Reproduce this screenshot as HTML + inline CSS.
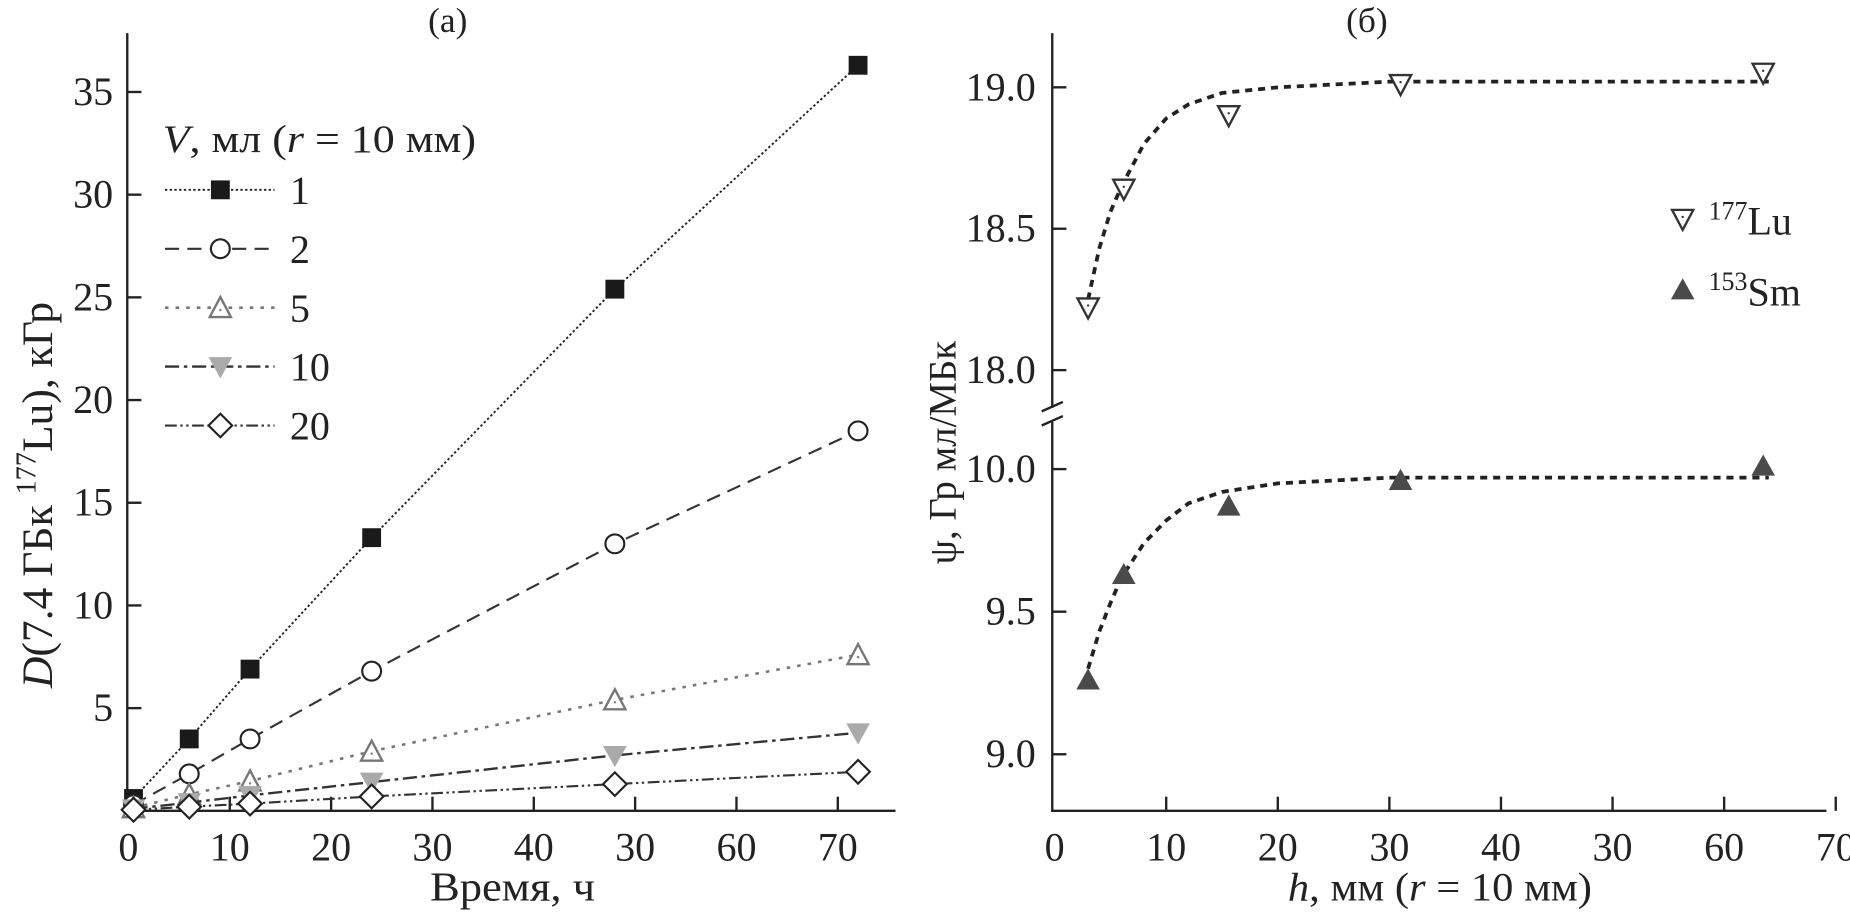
<!DOCTYPE html>
<html><head><meta charset="utf-8"><style>
html,body{margin:0;padding:0;background:#fff;}
svg{display:block;font-family:"Liberation Serif","DejaVu Serif",serif;}
</style></head><body>
<svg id="chart" width="1850" height="917" viewBox="0 0 1570 778">
<g id="pa"></g>
<g id="pb"></g>
</svg>
<script>
// ---- Panel (a) data ----
const timesA = [0.5, 6, 12, 24, 48, 72];
const s1 = [0.6, 3.5, 6.9, 13.3, 25.4, 36.3];
const s2 = [0.3, 1.8, 3.5, 6.8, 13.0, 18.5];
const s5 = [0.15, 0.8, 1.45, 2.9, 5.4, 7.6];
const s10 = [0.1, 0.4, 0.75, 1.4, 2.7, 3.8];
const s20 = [0.05, 0.2, 0.35, 0.7, 1.3, 1.9];
const seriesLabelsA = ["1", "2", "5", "10", "20"];
const yTicksA = [5, 10, 15, 20, 25, 30, 35];
const xTickValsA = [0, 10, 20, 30, 40, 50, 60, 70];
const xTickLabelsA = ["0", "10", "20", "30", "40", "30", "60", "70"];
// ---- Panel (b) data ----
const hVals = [3, 6.2, 15.6, 31, 63.5];
const luVals = [18.22, 18.64, 18.90, 19.01, 19.05];
const smVals = [9.26, 9.63, 9.87, 9.96, 10.01];
const fitH = [3, 4, 5, 6, 8, 10, 12, 15, 20, 30, 40, 50, 64];
const fitLu = [18.25, 18.43, 18.56, 18.65, 18.80, 18.89, 18.94, 18.98, 19.00, 19.02, 19.02, 19.02, 19.02];
const fitSm = [9.30, 9.43, 9.53, 9.62, 9.74, 9.82, 9.88, 9.92, 9.95, 9.97, 9.97, 9.97, 9.97];
const yTicksBUp = [18.0, 18.5, 19.0];
const yTicksBLow = [9.0, 9.5, 10.0];
const xTickValsB = [0, 10, 20, 30, 40, 50, 60, 70];
const xTickLabelsB = ["0", "10", "20", "30", "40", "30", "60", "70"];

const NS = "http://www.w3.org/2000/svg";
function mk(parent, tag, attrs, text) {
  const e = document.createElementNS(NS, tag);
  for (const k in attrs) e.setAttribute(k, attrs[k]);
  if (text !== undefined) e.textContent = text;
  parent.appendChild(e);
  return e;
}
const A = document.getElementById('pa');
const B = document.getElementById('pb');
const FS = 34;

const xA = v => 109 + v * 8.6;
const yA = v => 688 - v * 17.43;
const xB = v => 895 + v * 9.47;
const yBU = v => 74 + (19.0 - v) * 240;
const yBL = v => 398 + (10.0 - v) * 242;

function marker(g, type, x, y, name) {
  let e;
  if (type === 'sq') e = mk(g, 'rect', {x: x-8, y: y-8, width: 16, height: 16, fill: '#1a1a1a'});
  else if (type === 'ci') e = mk(g, 'circle', {cx: x, cy: y, r: 8, fill: '#fff', stroke: '#222', 'stroke-width': 1.8});
  else if (type === 'tu') {
    e = mk(g, 'g', {});
    mk(e, 'polygon', {points: `${x-9},${y+8} ${x+9},${y+8} ${x},${y-9}`, fill: '#fff', stroke: '#777', 'stroke-width': 2});
    mk(e, 'circle', {cx: x, cy: y+2, r: 1, fill: '#777'});
  }
  else if (type === 'td') e = mk(g, 'polygon', {points: `${x-10},${y-8} ${x+10},${y-8} ${x},${y+10}`, fill: '#aaa'});
  else if (type === 'di') e = mk(g, 'polygon', {points: `${x},${y-10} ${x+10},${y} ${x},${y+10} ${x-10},${y}`, fill: '#fff', stroke: '#222', 'stroke-width': 1.8});
  else if (type === 'tdo') {
    e = mk(g, 'g', {});
    mk(e, 'polygon', {points: `${x-9},${y-8} ${x+9},${y-8} ${x},${y+9}`, fill: '#fff', stroke: '#333', 'stroke-width': 2});
    mk(e, 'circle', {cx: x, cy: y-2, r: 1, fill: '#333'});
  }
  else if (type === 'tuf') e = mk(g, 'polygon', {points: `${x-10},${y+8} ${x+10},${y+8} ${x},${y-10}`, fill: '#4a4a4a'});
  
  
  return e;
}

// ---- Panel A axes ----
let ax = mk(A, 'line', {x1: 108, y1: 28, x2: 108, y2: 688, stroke: '#222', 'stroke-width': 2});


ax = mk(A, 'line', {x1: 107, y1: 688, x2: 760, y2: 688, stroke: '#222', 'stroke-width': 2});


yTicksA.forEach(v => {
  const t = mk(A, 'line', {x1: 108, y1: yA(v), x2: 120, y2: yA(v), stroke: '#222', 'stroke-width': 2});
  
  
  const l = mk(A, 'text', {x: 96, y: yA(v) + 11, 'font-size': FS, 'text-anchor': 'end', fill: '#222'}, String(v));
  
  
});
xTickValsA.forEach((v, i) => {
  if (v > 0) {
    const t = mk(A, 'line', {x1: xA(v), y1: 688, x2: xA(v), y2: 676, stroke: '#222', 'stroke-width': 2});
    
    
  }
  const l = mk(A, 'text', {x: xA(v), y: 730, 'font-size': FS, 'text-anchor': 'middle', fill: '#222'}, xTickLabelsA[i]);
  
  
});
let t = mk(A, 'text', {x: 435, y: 764, 'font-size': 35, 'text-anchor': 'middle', fill: '#222', textLength: 140, lengthAdjust: 'spacingAndGlyphs'}, 'Время, ч');


t = mk(A, 'text', {x: 380, y: 27, 'font-size': 30, 'text-anchor': 'middle', fill: '#222'}, '(a)');


t = mk(A, 'text', {x: 0, y: 0, 'font-size': 37, 'text-anchor': 'middle', fill: '#222', transform: 'translate(44,420) rotate(-90)'});
t.innerHTML = '<tspan font-style="italic">D</tspan>(7.4 ГБк <tspan font-size="24" dy="-14">177</tspan><tspan dy="14">Lu), кГр</tspan>';



const seriesA = [
  {vals: s1, m: 'sq', dash: '2,2', color: '#222', w: 1.6},
  {vals: s2, m: 'ci', dash: '12,7', color: '#333', w: 1.8},
  {vals: s5, m: 'tu', dash: '3,6', color: '#777', w: 2.2},
  {vals: s10, m: 'td', dash: '12,4,3,4', color: '#333', w: 2},
  {vals: s20, m: 'di', dash: '10,3,2,3,2,3', color: '#333', w: 1.8},
];
seriesA.forEach((s, si) => {
  const g = mk(A, 'g', {});
  
  
  const pts = timesA.map((tt, i) => `${xA(tt)},${yA(s.vals[i])}`).join(' ');
  const pl = mk(g, 'polyline', {points: pts, fill: 'none', stroke: s.color, 'stroke-width': s.w, 'stroke-dasharray': s.dash});
  
  
  timesA.forEach((tt, i) => marker(g, s.m, xA(tt), yA(s.vals[i]), 'point-' + seriesLabelsA[si]));
});

// legend A
const lg = mk(A, 'g', {});


t = mk(lg, 'text', {x: 138, y: 129, 'font-size': 33, fill: '#222', textLength: 266, lengthAdjust: 'spacingAndGlyphs'});
t.innerHTML = '<tspan font-style="italic">V</tspan>, мл (<tspan font-style="italic">r</tspan> = 10 мм)';


seriesA.forEach((s, si) => {
  const yy = 161 + si * 50;
  const e = mk(lg, 'g', {});
  
  
  mk(e, 'line', {x1: 140, y1: yy, x2: 233, y2: yy, stroke: s.color, 'stroke-width': s.w, 'stroke-dasharray': s.dash});
  marker(e, s.m, 187, yy, 'legend-marker');
  const l = mk(e, 'text', {x: 246, y: yy + 12, 'font-size': FS, fill: '#222'}, seriesLabelsA[si]);
  
  
});

// ---- Panel B axes ----
ax = mk(B, 'polyline', {points: '893,28 893,346', fill: 'none', stroke: '#222', 'stroke-width': 2});


ax = mk(B, 'polyline', {points: '893,358 893,688', fill: 'none', stroke: '#222', 'stroke-width': 2});


const br = mk(B, 'g', {stroke: '#222', 'stroke-width': 2});


mk(br, 'line', {x1: 884, y1: 349, x2: 902, y2: 341});
mk(br, 'line', {x1: 884, y1: 361, x2: 902, y2: 353});
ax = mk(B, 'line', {x1: 892, y1: 688, x2: 1550, y2: 688, stroke: '#222', 'stroke-width': 2});


[[yTicksBUp, yBU], [yTicksBLow, yBL]].forEach(([ticks, sc]) => {
  ticks.forEach(v => {
    const tk = mk(B, 'line', {x1: 893, y1: sc(v), x2: 905, y2: sc(v), stroke: '#222', 'stroke-width': 2});
    
    
    const l = mk(B, 'text', {x: 879, y: sc(v) + 11, 'font-size': FS, 'text-anchor': 'end', fill: '#222'}, v.toFixed(1));
    
    
  });
});
xTickValsB.forEach((v, i) => {
  if (v > 0) {
    const tk = mk(B, 'line', {x1: xB(v), y1: 688, x2: xB(v), y2: 676, stroke: '#222', 'stroke-width': 2});
    
    
  }
  const l = mk(B, 'text', {x: xB(v), y: 730, 'font-size': FS, 'text-anchor': 'middle', fill: '#222'}, xTickLabelsB[i]);
  
  
});
t = mk(B, 'text', {x: 1222, y: 764, 'font-size': 34, 'text-anchor': 'middle', fill: '#222', textLength: 258, lengthAdjust: 'spacingAndGlyphs'});
t.innerHTML = '<tspan font-style="italic">h</tspan>, мм (<tspan font-style="italic">r</tspan> = 10 мм)';


t = mk(B, 'text', {x: 1160, y: 27, 'font-size': 30, 'text-anchor': 'middle', fill: '#222'}, '(б)');


t = mk(B, 'text', {x: 0, y: 0, 'font-size': 33, 'text-anchor': 'middle', fill: '#222', transform: 'translate(811,384) rotate(-90)', 'xml:space': 'preserve'}, 'ψ, Гр  мл/МБк');



// fits
let f = mk(B, 'polyline', {points: fitH.map((h, i) => `${xB(h)},${yBU(fitLu[i])}`).join(' '), fill: 'none', stroke: '#222', 'stroke-width': 3.2, 'stroke-dasharray': '6,5'});


f = mk(B, 'polyline', {points: fitH.map((h, i) => `${xB(h)},${yBL(fitSm[i])}`).join(' '), fill: 'none', stroke: '#222', 'stroke-width': 3.2, 'stroke-dasharray': '6,5'});


hVals.forEach((h, i) => marker(B, 'tdo', xB(h), yBU(luVals[i]), 'point-lu177'));
hVals.forEach((h, i) => marker(B, 'tuf', xB(h), yBL(smVals[i]), 'point-sm153'));

// legend B
const lb = mk(B, 'g', {});


let le = mk(lb, 'g', {});


marker(le, 'tdo', 1428, 186, 'legend-marker-lu');
t = mk(le, 'text', {x: 1450, y: 199, 'font-size': FS, fill: '#222'});
t.innerHTML = '<tspan font-size="22" dy="-13">177</tspan><tspan dy="13">Lu</tspan>';


le = mk(lb, 'g', {});


marker(le, 'tuf', 1428, 246, 'legend-marker-sm');
t = mk(le, 'text', {x: 1450, y: 259, 'font-size': FS, fill: '#222'});
t.innerHTML = '<tspan font-size="22" dy="-13">153</tspan><tspan dy="13">Sm</tspan>';


</script>
</body></html>
